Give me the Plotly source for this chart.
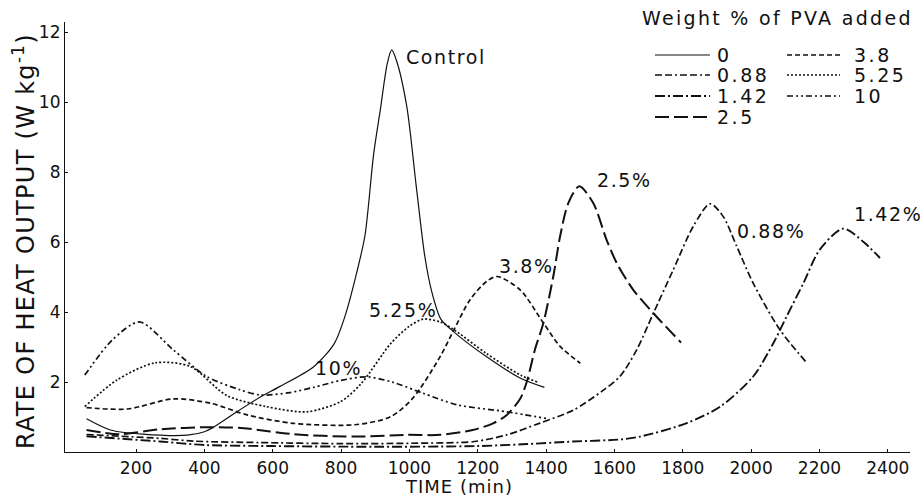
import plotly.graph_objects as go

# ---- data (time in min, rate of heat output in W/kg) ----
t_0 = [55, 125, 220, 350, 400, 430, 495, 565, 620, 720, 780, 812, 845, 870, 895, 915, 935, 948, 962, 992, 1020, 1045, 1065, 1092, 1128, 1225, 1325, 1395]
v_0 = [0.95, 0.63, 0.51, 0.48, 0.58, 0.73, 1.15, 1.58, 1.87, 2.44, 3.1, 3.9, 5.1, 6.2, 8.5, 9.8, 11.1, 11.5, 11.2, 9.9, 7.6, 5.6, 4.6, 3.8, 3.45, 2.73, 2.11, 1.85]

t_088 = [55, 270, 370, 560, 800, 1000, 1190, 1285, 1380, 1480, 1565, 1616, 1665, 1714, 1772, 1831, 1880, 1918, 1958, 2006, 2084, 2162]
v_088 = [0.5, 0.39, 0.31, 0.27, 0.24, 0.25, 0.3, 0.49, 0.82, 1.2, 1.75, 2.16, 2.92, 3.97, 5.21, 6.46, 7.1, 6.74, 5.88, 4.83, 3.5, 2.56]

t_142 = [55, 270, 400, 600, 900, 1200, 1330, 1480, 1620, 1675, 1810, 1910, 2006, 2065, 2104, 2153, 2201, 2270, 2330, 2377]
v_142 = [0.45, 0.3, 0.2, 0.17, 0.15, 0.17, 0.22, 0.3, 0.36, 0.44, 0.82, 1.3, 2.16, 3.11, 3.88, 4.83, 5.79, 6.39, 6.0, 5.55]

t_25 = [55, 150, 270, 415, 515, 660, 835, 990, 1090, 1185, 1245, 1285, 1325, 1345, 1367, 1392, 1421, 1441, 1465, 1497, 1538, 1577, 1607, 1655, 1714, 1795]
v_25 = [0.63, 0.51, 0.65, 0.71, 0.68, 0.51, 0.44, 0.49, 0.49, 0.63, 0.82, 1.06, 1.54, 2.06, 2.92, 3.69, 5.02, 6.17, 7.12, 7.6, 7.12, 6.07, 5.4, 4.64, 3.97, 3.13]

t_38 = [55, 175, 310, 420, 525, 660, 840, 945, 1010, 1090, 1128, 1177, 1226, 1257, 1324, 1392, 1441, 1500]
v_38 = [1.27, 1.23, 1.52, 1.39, 1.06, 0.82, 0.78, 1.01, 1.54, 2.73, 3.45, 4.35, 4.88, 5.02, 4.64, 3.69, 3.02, 2.54]

t_525 = [50, 144, 255, 358, 465, 580, 700, 800, 860, 945, 1000, 1040, 1090, 1130, 1225, 1325, 1375]
v_525 = [1.3, 2.06, 2.55, 2.45, 1.62, 1.3, 1.15, 1.45, 1.97, 3.1, 3.6, 3.8, 3.72, 3.5, 2.82, 2.2, 2.0]

t_10 = [50, 130, 210, 309, 407, 504, 565, 650, 720, 800, 875, 950, 1040, 1140, 1285, 1400]
v_10 = [2.2, 3.2, 3.72, 2.92, 2.16, 1.78, 1.63, 1.7, 1.85, 2.05, 2.15, 2.0, 1.68, 1.35, 1.15, 0.96]

x_ticks = [200, 400, 600, 800, 1000, 1200, 1400, 1600, 1800, 2000, 2200, 2400]
y_ticks = [2, 4, 6, 8, 10, 12]

curve_labels = ["Control", "2.5%", "0.88%", "1.42%", "3.8%", "5.25%", "10%"]
label_x = [984, 1543, 1953, 2294, 1256, 876, 718]
label_y = [11.3, 7.77, 6.33, 6.82, 5.33, 4.07, 2.41]

legend_names = ["0", "0.88", "1.42", "2.5", "3.8", "5.25", "10"]

# ---- styling ----
FONT = "DejaVu Sans, Verdana, sans-serif"
BLACK = "#111111"
W, H = 923, 496
ML, MR, MT, MB = 65, 13, 22, 44
PW, PH = W - ML - MR, H - MT - MB


def px_x(px):
    return (px - ML) / PW


def px_y(py):
    return 1 - (py - MT) / PH


def spaced(text, sp):
    return f'<span style="letter-spacing:{sp}px">{text}</span>'


styles = {
    "0": ("solid", 1.2),
    "0.88": ("7px,3px,7px,3px,2px,3px", 1.7),
    "1.42": ("10px,3px,2px,3px", 1.9),
    "2.5": ("14px,5px", 2.0),
    "3.8": ("5px,3px", 1.7),
    "5.25": ("2px,2px", 1.7),
    "10": ("6px,3px,2px,3px,2px,3px", 1.7),
}
data = {
    "0": (t_0, v_0), "0.88": (t_088, v_088), "1.42": (t_142, v_142),
    "2.5": (t_25, v_25), "3.8": (t_38, v_38), "5.25": (t_525, v_525),
    "10": (t_10, v_10),
}

fig = go.Figure()
for name in legend_names:
    t, v = data[name]
    dash, w = styles[name]
    fig.add_trace(go.Scatter(
        x=t, y=v, mode="lines", name=name, showlegend=False,
        line=dict(color=BLACK, width=w, dash=dash, shape="spline", smoothing=0.8),
    ))

for txt, lx, ly in zip(curve_labels, label_x, label_y):
    fig.add_annotation(x=lx, y=ly, text=spaced(txt, 1.6), showarrow=False, xanchor="left",
                       yanchor="middle", font=dict(family=FONT, size=19, color=BLACK))

# axis titles
fig.add_annotation(xref="paper", yref="paper", x=px_x(24), y=px_y(241), textangle=-90,
                   xanchor="center", yanchor="middle",
                   text=spaced("RATE OF HEAT OUTPUT (W kg<sup>-1</sup>)", 1.3), showarrow=False,
                   font=dict(family=FONT, size=24, color=BLACK))
fig.add_annotation(xref="paper", yref="paper", x=px_x(459), y=px_y(487), xanchor="center",
                   yanchor="middle", text=spaced("TIME (min)", 1), showarrow=False,
                   font=dict(family=FONT, size=18, color=BLACK))

# legend (title + sample lines + labels)
fig.add_annotation(xref="paper", yref="paper", x=px_x(640), y=px_y(18), xanchor="left",
                   yanchor="middle", text=spaced("Weight % of PVA added", 2.3), showarrow=False,
                   font=dict(family=FONT, size=19, color=BLACK))
leg_rows = [55, 75, 96, 117]
leg_cols = [(655, 710, 715), (787, 840, 852)]
for i, name in enumerate(legend_names):
    col, row = (0, i) if i < 4 else (1, i - 4)
    x0, x1, xt = leg_cols[col]
    yy = leg_rows[row]
    dash, w = styles[name]
    fig.add_shape(type="line", xref="paper", yref="paper", x0=px_x(x0), x1=px_x(x1),
                  y0=px_y(yy), y1=px_y(yy), line=dict(color=BLACK, width=w, dash=dash))
    fig.add_annotation(xref="paper", yref="paper", x=px_x(xt), y=px_y(yy), xanchor="left",
                       yanchor="middle", text=spaced(name, 2.5), showarrow=False,
                       font=dict(family=FONT, size=19, color=BLACK))

fig.update_layout(
    width=W, height=H,
    margin=dict(l=ML, r=MR, t=MT, b=MB),
    paper_bgcolor="white", plot_bgcolor="white",
    showlegend=False,
    font=dict(family=FONT, size=17, color=BLACK),
)
fig.update_xaxes(range=[-8, 2465], tickvals=x_ticks, ticks="inside", ticklen=3,
                 tickcolor=BLACK, showline=True, linecolor=BLACK, linewidth=1.2,
                 showgrid=False, zeroline=False,
                 tickfont=dict(family=FONT, size=17, color=BLACK))
fig.update_yaxes(range=[0, 12.3], tickvals=y_ticks, ticks="inside", ticklen=3,
                 tickcolor=BLACK, showline=True, linecolor=BLACK, linewidth=1.2,
                 showgrid=False, zeroline=False,
                 tickfont=dict(family=FONT, size=17, color=BLACK))

fig.write_html("out.html")
